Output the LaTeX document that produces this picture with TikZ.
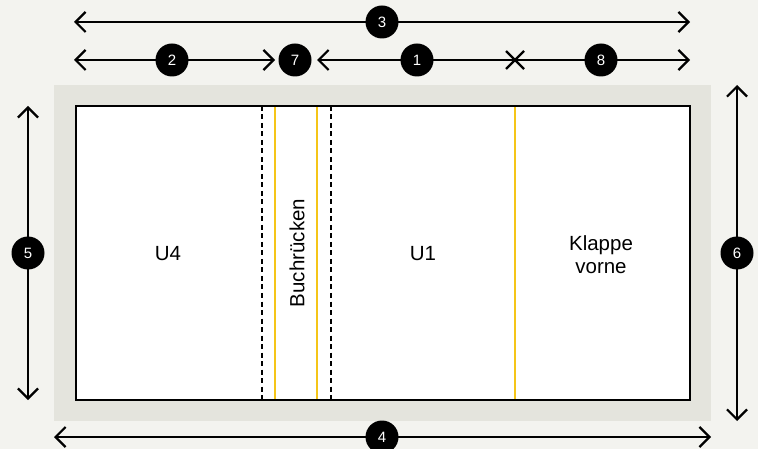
\documentclass[tikz,border=0pt]{standalone}
\usepackage{fontspec}
\setmainfont{Liberation Sans}
\usetikzlibrary{arrows.meta}
\definecolor{bgc}{HTML}{F3F3EF}
\definecolor{bleed}{HTML}{E4E4DD}
\definecolor{ylw}{HTML}{F5C518}
\tikzset{
  barb/.tip={Straight Barb[length=10pt,width=20pt,line width=2.2pt]},
  dim/.style={line width=2.2pt, black},
  tipped/.style={-barb},
  bothtip/.style={barb-barb},
  badge/.style={circle, fill=black, text=white, minimum size=33pt, inner sep=0pt, font=\fontsize{15}{15}\selectfont},
  lbl/.style={font=\fontsize{20.5}{23}\selectfont, align=center},
  fold/.style={ylw, line width=2.4pt},
  cut/.style={black, line width=2.2pt, dash pattern=on 5pt off 3.5pt},
}
\begin{document}
\begin{tikzpicture}[x=1pt,y=-1pt]
\useasboundingbox (0,0) rectangle (758,449);
\fill[bgc] (0,0) rectangle (758,449);
% bleed
\fill[bleed] (54,85) rectangle (711,421);
% page
\fill[white] (76,106) rectangle (690,400);
% fold and cut lines
\draw[cut] (262,106) -- (262,400);
\draw[cut] (331,106) -- (331,400);
\draw[fold] (275,106) -- (275,400);
\draw[fold] (317,106) -- (317,400);
\draw[fold] (515,106) -- (515,400);
\draw[black, line width=2.2pt] (76,106) rectangle (690,400);
% labels
\node[lbl] (u4) at (168,254) {U4};
\node[lbl, rotate=90] (spine) at (297,253) {Buchrücken};
\node[lbl] (u1) at (423,254) {U1};
\node[lbl] (flap) at (601,255) {Klappe\\vorne};
% coordinates
\coordinate (a3l) at (74,22); \coordinate (a3r) at (690,22);
\coordinate (a2l) at (74,60); \coordinate (a2r) at (275,60);
\coordinate (a1l) at (317,60); \coordinate (xm) at (515,60);
\coordinate (a8r) at (690,60);
\coordinate (a5t) at (28,106); \coordinate (a5b) at (28,400);
\coordinate (a6t) at (737,85); \coordinate (a6b) at (737,421);
\coordinate (a4l) at (54,437); \coordinate (a4r) at (711,437);
% dimension lines
\draw[dim, bothtip] (a3l) -- (a3r);
\draw[dim, bothtip] (a2l) -- (a2r);
\draw[dim, barb-] (a1l) -- (xm);
\draw[dim, tipped] (xm) -- (a8r);
\draw[dim] ([shift={(-9,-9)}]xm) -- ([shift={(9,9)}]xm);
\draw[dim] ([shift={(-9,9)}]xm) -- ([shift={(9,-9)}]xm);
\draw[dim, bothtip] (a5t) -- (a5b);
\draw[dim, bothtip] (a6t) -- (a6b);
\draw[dim, bothtip] (a4l) -- (a4r);
% badges
\node[badge] (b3) at (382,22) {3};
\node[badge] (b2) at (172,60) {2};
\node[badge] (b7) at (295,60) {7};
\node[badge] (b1) at (417,60) {1};
\node[badge] (b8) at (601,60) {8};
\node[badge] (b5) at (28,253) {5};
\node[badge] (b6) at (737,253) {6};
\node[badge] (b4) at (382,437) {4};
\end{tikzpicture}
\end{document}
